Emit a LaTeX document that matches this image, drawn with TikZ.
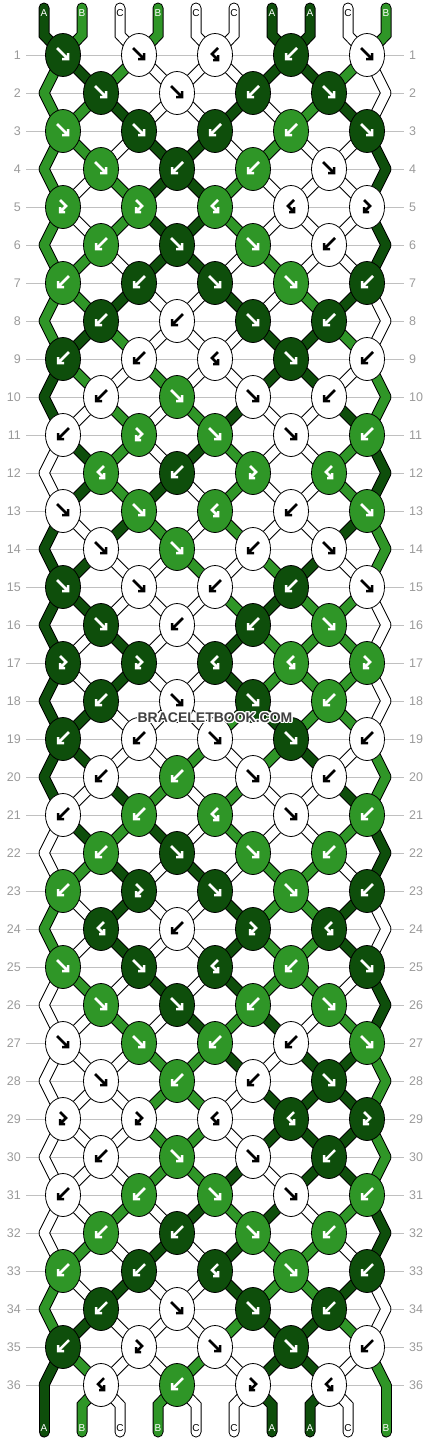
\documentclass[tikz,border=0pt]{standalone}
\usepackage{fontspec}
\setmainfont{Liberation Sans}
\usepackage{contour}
\usetikzlibrary{shapes.geometric}
\definecolor{strA}{HTML}{0E4E0B}
\definecolor{strB}{HTML}{2F9627}
\definecolor{strC}{HTML}{FFFFFF}
\definecolor{rowgray}{HTML}{9A9A9A}
\definecolor{linegray}{HTML}{C0C0C0}
\definecolor{wmgray}{HTML}{404040}
\contourlength{1.2pt}

% order of the strings after each row (row 0 = start)
\def\strandrows{0/{A,B,C,B,C,C,A,A,C,B}, 1/{B,A,B,C,C,C,A,A,B,C}, 2/{B,B,A,C,C,A,C,B,A,C},
  3/{B,B,C,A,A,C,B,C,C,A}, 4/{B,C,B,A,A,B,C,C,C,A}, 5/{B,C,B,A,A,B,C,C,C,A},
  6/{B,B,C,A,A,C,B,C,C,A}, 7/{B,B,A,C,C,A,C,B,A,C}, 8/{B,A,B,C,C,C,A,A,B,C},
  9/{A,B,C,B,C,C,A,A,C,B}, 10/{A,C,B,C,B,A,C,C,A,B}, 11/{C,A,B,C,A,B,C,C,B,A},
  12/{C,A,B,A,C,B,C,C,B,A}, 13/{A,C,A,B,C,B,C,C,A,B}, 14/{A,A,C,C,B,C,B,A,C,B},
  15/{A,A,C,C,C,B,A,B,B,C}, 16/{A,C,A,C,C,A,B,B,B,C}, 17/{A,C,A,C,C,A,B,B,B,C},
  18/{A,A,C,C,C,B,A,B,B,C}, 19/{A,A,C,C,B,C,B,A,C,B}, 20/{A,C,A,B,C,B,C,C,A,B},
  21/{C,A,B,A,C,B,C,C,B,A}, 22/{C,B,A,C,A,C,B,B,C,A}, 23/{B,C,A,C,C,A,B,B,A,C},
  24/{B,C,A,C,C,A,B,B,A,C}, 25/{C,B,C,A,C,A,B,B,C,A}, 26/{C,C,B,C,A,B,A,C,B,A},
  27/{C,C,C,B,B,A,C,A,A,B}, 28/{C,C,C,B,B,C,A,A,A,B}, 29/{C,C,C,B,B,C,A,A,A,B},
  30/{C,C,C,B,B,A,C,A,A,B}, 31/{C,C,B,C,A,B,A,C,B,A}, 32/{C,B,C,A,C,A,B,B,C,A},
  33/{B,C,A,C,C,A,B,B,A,C}, 34/{B,A,C,C,C,B,A,A,B,C}, 35/{A,B,C,C,B,C,A,A,C,B},
  36/{A,B,C,B,C,C,A,A,C,B}}

% knot colour / knot type for each row
\def\knotrows{1/{A/f,C/f,C/bf,A/b,C/f}, 2/{A/f,C/f,A/b,A/f}, 3/{B/f,A/f,A/b,B/b,A/f},
  4/{B/f,A/b,B/b,C/f}, 5/{B/fb,B/fb,B/bf,C/bf,C/fb}, 6/{B/b,A/f,B/f,C/b},
  7/{B/b,A/b,A/f,B/f,A/b}, 8/{A/b,C/b,A/f,A/b}, 9/{A/b,C/b,C/bf,A/f,C/b},
  10/{C/b,B/f,C/f,C/b}, 11/{C/b,B/fb,B/f,C/f,B/b}, 12/{B/bf,A/b,B/fb,B/bf},
  13/{C/f,B/f,B/bf,C/b,B/f}, 14/{C/f,B/f,C/b,C/f}, 15/{A/f,C/f,C/b,A/b,C/f},
  16/{A/f,C/b,A/b,B/f}, 17/{A/fb,A/fb,A/bf,B/bf,B/fb}, 18/{A/b,C/f,A/f,B/b},
  19/{A/b,C/b,C/f,A/f,C/b}, 20/{C/b,B/b,C/f,C/b}, 21/{C/b,B/b,B/bf,C/f,B/b},
  22/{B/b,A/f,B/f,B/b}, 23/{B/b,A/fb,A/f,B/f,A/b}, 24/{A/bf,C/b,A/fb,A/bf},
  25/{B/f,A/f,A/bf,B/b,A/f}, 26/{B/f,A/f,B/b,B/f}, 27/{C/f,B/f,B/b,C/b,B/f},
  28/{C/f,B/b,C/b,A/f}, 29/{C/fb,C/fb,C/bf,A/bf,A/fb}, 30/{C/b,B/f,C/f,A/b},
  31/{C/b,B/b,B/f,C/f,B/b}, 32/{B/b,A/b,B/f,B/b}, 33/{B/b,A/b,A/bf,B/f,A/b},
  34/{A/b,C/f,A/f,A/b}, 35/{A/b,C/fb,C/f,A/f,C/b}, 36/{C/bf,B/b,C/fb,C/bf}}

\tikzset{
  arrf/.pic={\draw[line width=2.5pt] (-6,-7) -- (5,4) (-1,4) -- (5,4) -- (5,-2);},
  arrb/.pic={\draw[line width=2.5pt] (6,-7) -- (-5,4) (1,4) -- (-5,4) -- (-5,-2);},
  arrfb/.pic={\draw[line width=2.5pt] (-3,-7) -- (3,-1) -- (-3,5) (2,5) -- (-3,5) -- (-3,0);},
  arrbf/.pic={\draw[line width=2.5pt] (3,-7) -- (-3,-1) -- (3,5) (-2,5) -- (3,5) -- (3,0);}
}

\begin{document}
\begin{tikzpicture}[x=1pt, y=-1pt,
    knot/.style={ellipse, draw=black, line width=0.8pt, minimum width=35pt, minimum height=43pt, inner sep=0pt},
    inkA/.style={white}, inkB/.style={white}, inkC/.style={black},
    strandrim/.style={draw=black, line width=11pt, line cap=round},
    strandcore/.style={draw=str#1, line width=9pt, line cap=round},
    rowline/.style={draw=linegray, line width=1pt},
    rownum/.style={text=rowgray, inner sep=0pt, font=\fontsize{12.5}{13}\selectfont},
    strlabel/.style={inner sep=0pt, font=\fontsize{10}{11}\selectfont}]

    \useasboundingbox (0,0) rectangle (430,1440);

    % row rules and numbers
    \foreach \r in {1,...,36} {
        \pgfmathsetmacro\y{17+38*\r}
        \draw[rowline] (26,\y) -- (404,\y);
        \node[rownum, anchor=east] (nl-\r) at (21,\y) {\r};
        \node[rownum, anchor=west] (nr-\r) at (409,\y) {\r};
    }

    % where every string passes in each row
    \foreach \p in {0,...,9} {
        \coordinate (t-\p)  at (44+38*\p, 8);
        \coordinate (tb-\p) at (44+38*\p, 35);
        \coordinate (bb-\p) at (44+38*\p, 1405);
        \coordinate (b-\p)  at (44+38*\p, 1432);
    }
    \foreach \r in {1,...,36}
        \foreach \p in {0,...,9} {
            \pgfmathsetmacro\xx{isodd(\r) ? 63+76*floor(\p/2) : (\p==0 ? 44 : (\p==9 ? 386 : 101+76*floor((\p-1)/2)))}
            \coordinate (p-\r-\p) at (\xx, 17+38*\r);
        }

    % strings: black rim first, colour on top
    \foreach \ws in {strandrim, strandcore}
        \foreach \r/\ord in \strandrows {
            \pgfmathtruncatemacro\rn{\r+1}
            \foreach \sa [count=\p from 0] in \ord {
                \ifnum\r=0
                    \draw[\ws=\sa] (t-\p) -- (tb-\p) -- (p-1-\p);
                \else\ifnum\r=36
                    \draw[\ws=\sa] (p-36-\p) -- (bb-\p) -- (b-\p);
                \else
                    \draw[\ws=\sa] (p-\r-\p) -- (p-\rn-\p);
                \fi\fi
            }
        }

    % knots
    \foreach \r/\kk in \knotrows
        \foreach \col/\dir [count=\n from 0] in \kk {
            \pgfmathtruncatemacro\q{isodd(\r) ? 2*\n : 2*\n+1}
            \node[knot, fill=str\col] (k-\r-\n) at (p-\r-\q) {};
            \pic[ink\col] at (k-\r-\n) {arr\dir};
        }

    % string letters
    \foreach \sa [count=\p from 0] in {A,B,C,B,C,C,A,A,C,B} {
        \node[strlabel, ink\sa] (lt-\p) at (44+38*\p, 13) {\sa};
        \node[strlabel, ink\sa] (lb-\p) at (44+38*\p, 1428) {\sa};
    }

    \node[text=wmgray, font=\bfseries\fontsize{14}{15}\selectfont] (wm) at (215,718) {\contour{white}{BRACELETBOOK.COM}};

\end{tikzpicture}
\end{document}
